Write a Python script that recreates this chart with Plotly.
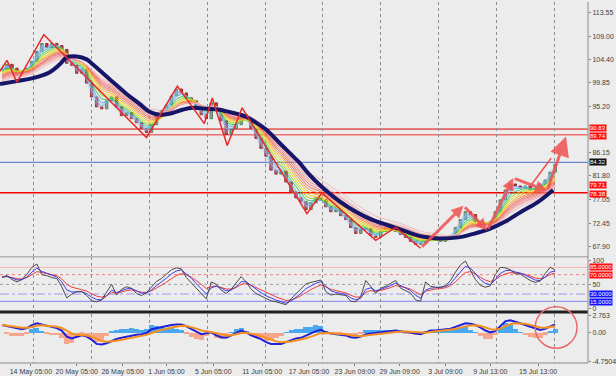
import numpy as np
import pandas as pd
import plotly.graph_objects as go

# ---------------- data ----------------
close = [102.53, 103.49, 102.72, 101.37, 102.14, 102.72, 104.07, 106.01, 107.56, 106.78,
         107.56, 107.17, 106.40, 103.69, 103.30, 101.75, 102.53, 99.82, 97.11, 95.18,
         94.79, 96.34, 97.11, 95.18, 93.44, 94.02, 92.86, 92.08, 90.92, 90.15,
         91.70, 93.24, 94.40, 95.56, 97.30, 98.66, 97.89, 96.92, 96.34, 95.18,
         93.63, 92.86, 95.95, 94.79, 92.47, 89.76, 90.92, 91.70, 93.63, 92.86,
         90.92, 88.99, 87.05, 85.51, 82.80, 82.02, 82.60, 80.48, 78.54, 77.38,
         76.61, 75.06, 76.42, 77.38, 77.00, 75.64, 74.67, 75.06, 73.90, 73.13,
         71.58, 70.42, 71.19, 71.39, 70.03, 69.65, 70.81, 71.39, 71.19, 70.81,
         70.23, 69.65, 68.87, 68.29, 68.49, 69.07, 69.26, 69.07, 68.87, 69.26,
         70.03, 71.58, 73.13, 74.67, 74.10, 72.74, 71.97, 72.35, 72.74, 74.67,
         77.00, 78.93, 80.09, 79.70, 79.32, 79.70, 78.93, 79.12, 80.09, 80.86,
         82.41, 83.96]

navy_idx = [-0.4, 3.0, 6.2, 9.6, 11.6, 13.0, 15.0, 17.0, 18.2, 21.6, 25.0, 27.6, 29.6, 31.6,
            33.6, 36.2, 38.2, 41.0, 43.6, 46.2, 49.0, 51.0, 53.0, 55.6, 57.6, 59.6, 61.6,
            64.2, 67.6, 71.0, 74.2, 77.6, 81.0, 84.2, 87.6, 91.6, 94.2, 97.6, 101.0, 104.2,
            107.6, 110.6]
navy_val = [99.63, 100.21, 100.79, 101.95, 103.49, 104.85, 105.04, 104.46, 103.49, 100.59,
            97.69, 95.76, 94.21, 93.63, 93.82, 94.60, 94.98, 94.79, 94.60, 94.02, 93.24,
            92.08, 90.73, 88.21, 86.28, 84.35, 82.02, 79.51, 76.80, 74.67, 73.13, 71.97,
            70.81, 69.84, 69.45, 69.65, 70.23, 71.19, 72.74, 74.67, 76.61, 78.93]

zigzag_idx = [-0.4, 1.0, 3.0, 8.4, 29.0, 35.2, 40.6, 42.2, 45.2, 48.2, 61.2, 64.2, 75.0, 79.0, 84.0]
zigzag_val = [102.14, 104.27, 100.01, 109.30, 89.18, 99.24, 91.89, 96.92, 87.63, 94.98,
              74.29, 78.35, 69.07, 71.58, 67.52]

arrow_idx = [84.0, 92.6, 97.4, 102.6, 109.4, 113.2]
arrow_val = [67.52, 75.84, 71.00, 81.25, 78.74, 89.37]
thin_idx = [106.2, 110.2]
thin_val = [79.90, 85.12]

osc_main = [65, 68, 60, 55, 60, 71, 85, 92, 70, 68,
            64, 62, 45, 22, 30, 35, 35, 27, 16, 14,
            18, 34, 50, 28, 40, 45, 42, 31, 27, 33,
            45, 56, 62, 71, 80, 84, 82, 64, 53, 40,
            30, 20, 55, 50, 38, 31, 40, 52, 66, 55,
            40, 31, 26, 20, 16, 14, 11, 8, 20, 30,
            40, 51, 54, 57, 59, 35, 28, 30, 29, 27,
            15, 14, 25, 58, 46, 31, 42, 46, 52, 58,
            42, 37, 32, 18, 15, 55, 46, 44, 44, 47,
            58, 75, 90, 98, 80, 60, 48, 44, 47, 70,
            85, 84, 80, 72, 71, 65, 58, 54, 57, 72,
            85, 80]

macd_main = [1.2, 1.0, 0.8, 0.6, 0.5, 0.7, 1.2, 1.5, 1.3, 1.0,
             0.8, 0.7, 0.3, -0.7, -1.0, -0.8, -0.5, -0.7, -1.2, -1.9,
             -2.0, -1.8, -1.4, -1.1, -0.9, -0.7, -0.5, -0.4, -0.3, -0.1,
             0.5, 0.7, 0.9, 1.0, 1.2, 1.3, 1.3, 1.0, 0.5, 0.1,
             -0.3, -0.1, 0.0, -0.5, -0.8, -0.9, -0.5, 0.0, 0.3, 0.0,
             -0.5, -0.8, -1.1, -1.6, -1.9, -1.9, -1.9, -1.6, -1.3, -1.0,
             -0.9, -0.5, -0.2, 0.2, 0.4, 0.0, -0.2, -0.3, -0.3, -0.5,
             -0.8, -0.9, -0.7, -0.3, -0.2, -0.1, 0.0, 0.1, 0.2, 0.3,
             0.2, 0.1, 0.0, -0.2, -0.3, 0.0, 0.3, 0.3, 0.4, 0.4,
             0.6, 0.9, 1.2, 1.5, 1.4, 1.2, 0.8, 0.3, 0.0, 0.2,
             1.0, 1.8, 2.0, 1.8, 1.5, 1.2, 0.9, 0.6, 0.4, 0.6,
             1.0, 1.3]

date_labels = ["14 May 05:00", "20 May 05:00", "26 May 05:00", "1 Jun 05:00", "5 Jun 05:00",
               "11 Jun 05:00", "17 Jun 05:00", "23 Jun 09:00", "29 Jun 09:00", "3 Jul 09:00",
               "9 Jul 13:00", "15 Jul 13:00"]
date_pos = [5.8, 15.0, 24.2, 33.0, 42.4, 52.2, 61.6, 70.8, 79.8, 89.0, 98.0, 107.6]

price_ticks = [113.55, 109.00, 104.40, 99.85, 95.20, 86.15, 81.80, 77.05, 72.45, 67.90]
level_red_hi = 90.83
level_red_hi2 = 89.74
level_bid = 84.32
level_red_lo = 78.38
label_red_mid = 79.71
macd_ticks = [2.763, 0.0, -4.7504]

# ---------------- derived ----------------
n = len(close)
idx = np.arange(n)
opens = [close[0]] + close[:-1]
highs = [max(o, c) for o, c in zip(opens, close)]
lows = [min(o, c) for o, c in zip(opens, close)]


def ema(values, span, seed=None):
    a = 2.0 / (span + 1)
    e = values[0] if seed is None else seed
    out = []
    for v in values:
        e = e + a * (v - e)
        out.append(e)
    return out


ribbon_spans = [2, 3, 4, 5, 6, 7, 8, 9, 10, 11, 12, 13, 15]
ribbon_cols = ['#8ab4f0', '#50b8e8', '#30c850', '#9ad628', '#eedc20', '#f8b428', '#f48838',
               '#f06050', '#f07070', '#f08484', '#f29898', '#f4aaaa', '#f4b8b8']

osc_blue = ema(osc_main, 3)
osc_red = ema(osc_main, 6)
macd_sig = ema(macd_main, 5)
hist = [(m - s) * 2.0 for m, s in zip(macd_main, macd_sig)]

# ---------------- figure ----------------
BG = '#ececec'
FONT = 'Liberation Sans'
fig = go.Figure()

fast = ema(close, 3, seed=close[0])
fig.add_trace(go.Scatter(x=idx, y=close, mode='lines', line=dict(width=0), hoverinfo='skip',
                         showlegend=False, xaxis='x', yaxis='y'))
fig.add_trace(go.Scatter(x=idx, y=fast, mode='lines', line=dict(width=0), fill='tonexty',
                         fillcolor='rgba(150,190,240,0.35)', hoverinfo='skip', showlegend=False,
                         xaxis='x', yaxis='y'))

nr = len(ribbon_spans)
for k, (sp, col) in enumerate(zip(ribbon_spans, ribbon_cols)):
    seed = close[0] + (navy_val[0] - close[0]) * (k + 1) / (nr + 1)
    fig.add_trace(go.Scatter(x=idx, y=ema(close, sp, seed), mode='lines',
                             line=dict(color=col, width=1), opacity=0.9,
                             hoverinfo='skip', showlegend=False, xaxis='x', yaxis='y'))

fig.add_trace(go.Candlestick(x=idx, open=opens, high=highs, low=lows, close=close,
                             increasing=dict(line=dict(color='#5a7f66', width=1), fillcolor='#8aa894'),
                             decreasing=dict(line=dict(color='#a02828', width=1), fillcolor='#bb4040'),
                             whiskerwidth=0, showlegend=False, xaxis='x', yaxis='y'))

fig.add_trace(go.Scatter(x=navy_idx, y=navy_val, mode='lines', line=dict(color='#161668', width=4, shape='spline'),
                         hoverinfo='skip', showlegend=False, xaxis='x', yaxis='y'))

fig.add_trace(go.Scatter(x=zigzag_idx, y=zigzag_val, mode='lines', line=dict(color='#e82828', width=1.5),
                         hoverinfo='skip', showlegend=False, xaxis='x', yaxis='y'))
fig.add_trace(go.Scatter(x=thin_idx, y=thin_val, mode='lines', line=dict(color='#f05050', width=1.5),
                         hoverinfo='skip', showlegend=False, xaxis='x', yaxis='y'))

# oscillator pane
fig.add_trace(go.Scatter(x=idx, y=osc_red, mode='lines', line=dict(color='#f03c3c', width=1),
                         showlegend=False, xaxis='x2', yaxis='y2'))
fig.add_trace(go.Scatter(x=idx, y=osc_blue, mode='lines', line=dict(color='#3c3cf0', width=1),
                         showlegend=False, xaxis='x2', yaxis='y2'))
fig.add_trace(go.Scatter(x=idx, y=osc_main, mode='lines', line=dict(color='#4a4a4a', width=1),
                         showlegend=False, xaxis='x2', yaxis='y2'))

# macd pane
fig.add_trace(go.Bar(x=idx, y=hist, marker=dict(color=['#4aa8f0' if h >= 0 else '#f6a68c' for h in hist],
                                                line=dict(width=0)),
                     width=1.0, showlegend=False, xaxis='x3', yaxis='y3'))
fig.add_trace(go.Scatter(x=idx, y=macd_main, mode='lines', line=dict(color='#2020d8', width=2),
                         showlegend=False, xaxis='x3', yaxis='y3'))
fig.add_trace(go.Scatter(x=idx, y=macd_sig, mode='lines', line=dict(color='#f5901e', width=2),
                         showlegend=False, xaxis='x3', yaxis='y3'))

shapes = []
ann = []

for val, col, w in [(level_red_hi, '#e00000', 1), (level_red_hi2, '#f07070', 1.5),
                    (level_bid, '#6a84d0', 1.2), (level_red_lo, '#f00000', 1.5)]:
    shapes.append(dict(type='line', xref='x domain', x0=0, x1=1, yref='y', y0=val, y1=val,
                       line=dict(color=col, width=w), layer='below'))

for val, col, dash, w in [(85, '#f4b4b4', 'solid', 1), (70, '#e88080', 'dot', 1),
                          (50, '#a0a0a0', 'dot', 1), (30, '#9c9cf0', 'dashdot', 1),
                          (15, '#8484f0', 'solid', 1)]:
    shapes.append(dict(type='line', xref='x2 domain', x0=0, x1=1, yref='y2', y0=val, y1=val,
                       line=dict(color=col, width=w, dash=dash), layer='below'))

shapes.append(dict(type='line', xref='paper', x0=0, x1=1, yref='paper', y0=0.2945, y1=0.2945,
                   line=dict(color='#b4b4b4', width=1.5)))
shapes.append(dict(type='line', xref='paper', x0=0, x1=1, yref='paper', y0=0.1411, y1=0.1411,
                   line=dict(color='#202020', width=3)))
shapes.append(dict(type='line', xref='paper', x0=1, x1=1, yref='paper', y0=0, y1=1,
                   line=dict(color='#8a8a8a', width=1)))
shapes.append(dict(type='line', xref='paper', x0=0, x1=1, yref='paper', y0=0, y1=0,
                   line=dict(color='#8a8a8a', width=1)))

shapes.append(dict(type='circle', xref='x3', x0=107.0, x1=115.4, yref='paper', y0=0.041, y1=0.156,
                   line=dict(color='#e86a6a', width=1.5)))

for i in range(len(arrow_idx) - 1):
    last = (i == len(arrow_idx) - 2)
    ann.append(dict(x=arrow_idx[i + 1], y=arrow_val[i + 1], ax=arrow_idx[i], ay=arrow_val[i],
                    xref='x', yref='y', axref='x', ayref='y', showarrow=True, text='',
                    arrowhead=2, arrowsize=1.3 if last else 0.8, arrowwidth=3,
                    arrowcolor='rgba(240,82,82,0.85)'))


def box(text, yv, yref, bg, shift=0, fg='white'):
    ann.append(dict(x=1, xref='paper', xanchor='left', xshift=1, y=yv, yref=yref, yanchor='middle',
                    yshift=shift, text=text, showarrow=False, bgcolor=bg, borderpad=0,
                    font=dict(family=FONT, size=6, color=fg)))


box('90.83', level_red_hi, 'y', '#ff1010', 1.5)
box('89.74', level_red_hi2, 'y', '#ff1010', -1.5)
box('84.32', level_bid, 'y', '#101010')
box('79.71', label_red_mid, 'y', '#ff1010', 0.5)
box('78.38', level_red_lo, 'y', '#ff1010', -1)
box('85.0000', 85, 'y2', '#ff1010', 0.5)
box('70.0000', 70, 'y2', '#ff1010', -0.5)
box('30.0000', 30, 'y2', '#1010ff', 0.5)
box('15.0000', 15, 'y2', '#1010ff', -0.5)

tickfont = dict(family=FONT, size=7, color='#404040')
xr = [-0.4, 117.6]
gridx = dict(tickmode='linear', tick0=6.4, dtick=11.6, showgrid=True, griddash='dot',
             gridcolor='#8c8c8c', gridwidth=1, showticklabels=False, ticks='', zeroline=False)

fig.update_layout(
    width=616, height=376,
    margin=dict(l=0, r=26, t=0, b=11),
    paper_bgcolor=BG, plot_bgcolor=BG,
    showlegend=False, bargap=0,
    font=dict(family=FONT, size=7, color='#404040'),
    xaxis=dict(domain=[0, 1], range=xr, anchor='y', rangeslider=dict(visible=False), **gridx),
    xaxis2=dict(domain=[0, 1], range=xr, anchor='y2', matches='x', **gridx),
    xaxis3=dict(domain=[0, 1], range=xr, anchor='y3', matches='x', showgrid=False, zeroline=False,
                tickmode='array', tickvals=date_pos, ticktext=date_labels, ticks='outside', ticklen=2,
                tickcolor='#808080', tickfont=tickfont,
                minor=dict(tickmode='linear', tick0=6.4, dtick=11.6, showgrid=True, griddash='dot',
                           gridcolor='#8c8c8c', gridwidth=1, ticks='')),
    yaxis=dict(domain=[0.2959, 1], range=[65.97, 115.68], side='right', anchor='x', showgrid=False,
               zeroline=False, tickmode='array', tickvals=price_ticks,
               ticktext=['%.2f' % v for v in price_ticks], ticks='outside', ticklen=2,
               tickcolor='#808080', tickfont=tickfont),
    yaxis2=dict(domain=[0.1452, 0.2932], range=[-4.1, 106.1], side='right', anchor='x2', showgrid=False,
                zeroline=False, tickmode='array', tickvals=[100, 50, 0], ticktext=['100', '50', '0'],
                ticks='outside', ticklen=2, tickcolor='#808080', tickfont=tickfont),
    yaxis3=dict(domain=[0, 0.137], range=[-5.04, 3.09], side='right', anchor='x3', showgrid=False,
                zeroline=False, tickmode='array', tickvals=macd_ticks,
                ticktext=['2.763', '0.00', '-4.7504'], ticks='outside', ticklen=2,
                tickcolor='#808080', tickfont=tickfont),
    shapes=shapes, annotations=ann,
)

fig.write_html('out.html')
